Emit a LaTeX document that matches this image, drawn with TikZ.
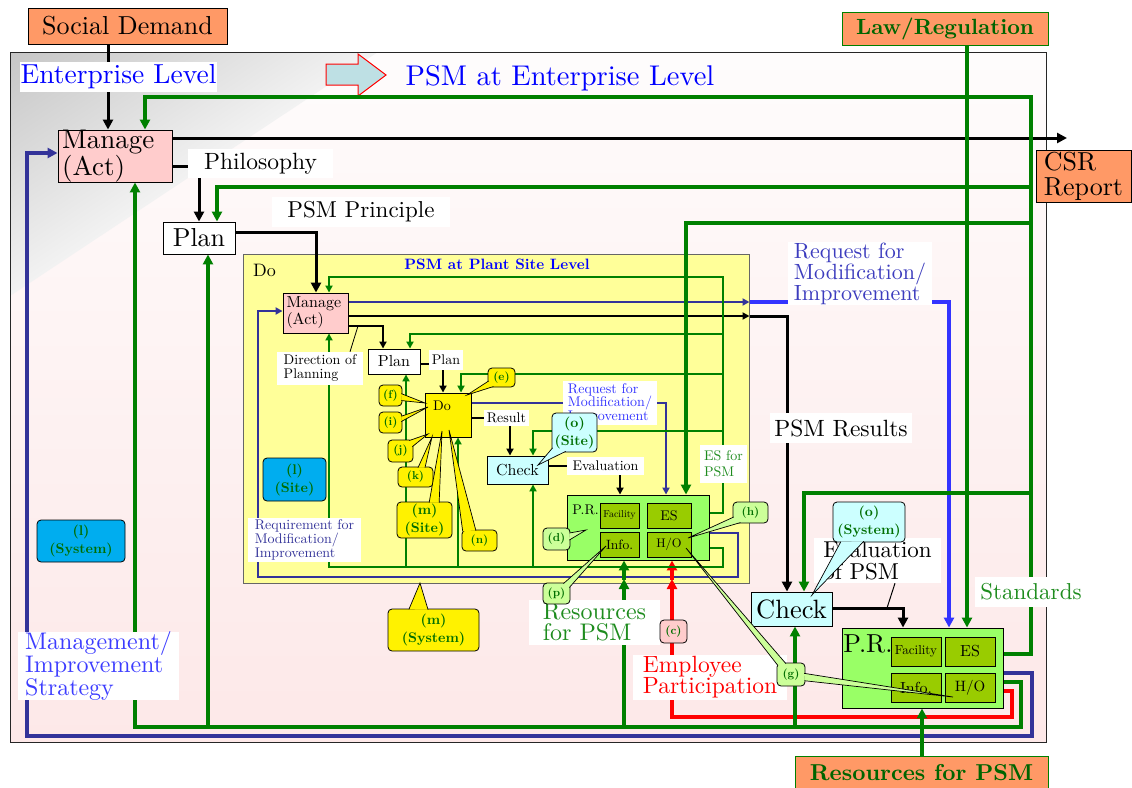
\documentclass[tikz,border=0pt]{standalone}
\usepackage{fontspec}
\setmainfont{lmroman10}[Extension=.otf, UprightFont=*-regular, BoldFont=*-bold, ItalicFont=*-italic, BoldItalicFont=*-bolditalic]
\usetikzlibrary{arrows.meta,calc}
\pgfdeclarelayer{bg}
\pgfdeclarelayer{fg}
\pgfsetlayers{bg,main,fg}
\definecolor{salmon}{RGB}{255,153,102}
\definecolor{pinkbox}{RGB}{255,204,204}
\definecolor{lyellow}{RGB}{255,255,153}
\definecolor{dgreen}{RGB}{0,128,0}
\definecolor{tgreen}{RGB}{0,100,0}
\definecolor{cgreen}{RGB}{0,110,0}
\definecolor{lgtext}{RGB}{30,140,30}
\definecolor{dblue}{RGB}{51,51,153}
\definecolor{bblue}{RGB}{51,51,255}
\definecolor{reqblue}{RGB}{60,60,190}
\definecolor{mblue}{RGB}{60,60,255}
\definecolor{lcyan}{RGB}{204,255,255}
\definecolor{lgreen}{RGB}{153,255,102}
\definecolor{oliveb}{RGB}{153,204,0}
\definecolor{callg}{RGB}{204,255,153}
\definecolor{arrowfill}{RGB}{190,224,228}
\definecolor{pinktop}{RGB}{254,252,252}
\definecolor{pinkbot}{RGB}{253,232,232}
\pgfdeclareverticalshading{grayfade}{100bp}{color(0bp)=(black!5); color(50bp)=(black!5); color(100bp)=(black!30)}
\newcommand{\myfs}[2]{\fontsize{#1}{#2}\selectfont}
\newcommand{\ptr}[5]{\filldraw[fill=#1,draw=black,line width=0.7pt] ($(#2.#3)!1.2pt!(#2.center)$) -- #5 -- ($(#2.#4)!1.2pt!(#2.center)$);}
\tikzset{
 box/.style={draw=black, line width=0.9pt, inner sep=0pt, anchor=center},
 lab/.style={fill=white, inner sep=0pt, anchor=center},
 call/.style={draw=black, line width=0.8pt, rounded corners=4pt, inner sep=0pt, align=center, text=cgreen, font=\bfseries\myfs{11.5}{14}},
 calltwo/.style={call, font=\bfseries\myfs{14}{18}},
 lnK/.style={line width=3pt, black},
 lnKi/.style={line width=2.4pt, black},
 lnG/.style={line width=3.2pt, dgreen},
 lnGi/.style={line width=2.6pt, dgreen},
 lnDB/.style={line width=3.2pt, dblue},
 lnDBi/.style={line width=2.6pt, dblue},
 lnBB/.style={line width=3.2pt, bblue},
 lnR/.style={line width=3.2pt, red},
 ar/.style={-{Triangle[length=10pt,width=10pt]}},
 ars/.style={-{Triangle[length=7pt,width=7pt]}},
}
\begin{document}
\begin{tikzpicture}[x=1pt,y=-1pt]
\useasboundingbox (0,0) rectangle (1132,787);

\begin{pgfonlayer}{bg}
\shade[top color=pinktop, bottom color=pinkbot] (10,52) rectangle (1046,742);
\begin{scope}
\clip (10,52) -- (378,52) -- (10,296) -- cycle;
\shade[shading=grayfade, shading angle=33.5] (10,52) rectangle (378,296);
\end{scope}
\draw[line width=1pt, black!85] (10,52) rectangle (1046,742);
\filldraw[fill=arrowfill, draw=red, line width=1pt] (326,64) -- (358,64) -- (358,54) -- (386,75) -- (358,96) -- (358,85) -- (326,85) -- cycle;
\node[draw=black!60, line width=1pt, fill=lyellow, minimum width=506pt, minimum height=329pt, inner sep=0pt] (yb) at (496,418.5) {};
\end{pgfonlayer}

\begin{pgfonlayer}{fg}
% boxes
\node[box, fill=salmon, minimum width=199pt, minimum height=36pt, font=\myfs{26}{28}] (soc) at (127.5,26) {Social Demand};
\node[box, fill=salmon, draw=dgreen, minimum width=206pt, minimum height=33pt, text=tgreen, font=\bfseries\myfs{22}{24}] (law) at (945,28.5) {Law/Regulation};
\node[box, fill=salmon, minimum width=95pt, minimum height=52pt, align=left, font=\myfs{26}{25}] (csr) at (1083.5,176) {CSR\\Report};
\node[box, fill=salmon, draw=dgreen, minimum width=253pt, minimum height=34pt, text=tgreen, font=\bfseries\myfs{23}{26}] (res) at (921.5,773) {Resources for PSM};
\node[box, fill=pinkbox, minimum height=52pt, text width=106pt, inner xsep=4pt, align=left, font=\myfs{27}{23}] (mgB) at (115,156) {Manage\\(Act)};
\node[box, fill=white, minimum width=72pt, minimum height=32pt, font=\myfs{26}{28}] (plB) at (199,238) {Plan};
\node[inner sep=0pt, anchor=west, font=\myfs{18}{20}] (doL) at (253,270) {Do};
\node[inner sep=0pt, text=blue, font=\bfseries\myfs{15}{17}] (psmP) at (497,264) {PSM at Plant Site Level};
\node[box, fill=pinkbox, minimum height=40pt, text width=58pt, inner xsep=3.5pt, align=left, font=\myfs{16}{17}] (mgS) at (315.5,313) {Manage\\(Act)};
\node[box, fill=white, minimum width=52pt, minimum height=25pt, font=\myfs{16}{18}] (plS) at (394,361.5) {Plan};
\node[box, fill=yellow, minimum width=46pt, minimum height=44pt] (doS) at (448,415) {};
\node[inner sep=0pt, font=\myfs{14}{16}] (doT) at (442,406) {Do};
\node[box, fill=lcyan, minimum width=61pt, minimum height=28pt, font=\myfs{16}{18}] (ckS) at (517.5,470) {Check};
\node[box, fill=lgreen, minimum width=142pt, minimum height=65pt] (prS) at (638,527.5) {};
\node[inner sep=0pt, font=\myfs{14}{16}] (prSt) at (585.5,510) {P.R.};
\node[box, fill=oliveb, minimum width=39pt, minimum height=25pt, font=\myfs{10}{12}] (faS) at (619.5,515.5) {Facility};
\node[box, fill=oliveb, minimum width=44pt, minimum height=25pt, font=\myfs{14}{16}] (esS) at (669,515.5) {ES};
\node[box, fill=oliveb, minimum width=39pt, minimum height=25pt, font=\myfs{13.5}{16}] (inS) at (619.5,544.5) {Info.};
\node[box, fill=oliveb, minimum width=44pt, minimum height=25pt, font=\myfs{12.5}{16}] (hoS) at (669,544.5) {H/O};
\node[box, fill=lcyan, minimum width=81pt, minimum height=34pt, font=\myfs{26.5}{28}] (ckB) at (791.5,609) {Check};
\node[box, fill=lgreen, minimum width=161pt, minimum height=80pt] (prB) at (922.5,668) {};
\node[inner sep=0pt, font=\myfs{26}{28}] (prBt) at (868,644) {P.R.};
\node[box, fill=oliveb, minimum width=50pt, minimum height=29pt, font=\myfs{13}{15}] (faB) at (916,651.5) {Facility};
\node[box, fill=oliveb, minimum width=50pt, minimum height=29pt, font=\myfs{16}{18}] (esB) at (970,651.5) {ES};
\node[box, fill=oliveb, minimum width=50pt, minimum height=29pt, font=\myfs{16}{18}] (inB) at (916,687.5) {Info.};
\node[box, fill=oliveb, minimum width=50pt, minimum height=29pt, font=\myfs{15}{18}] (hoB) at (970,687.5) {H/O};
% labels
\node[lab, text=blue, minimum width=197pt, minimum height=30pt, font=\myfs{27.5}{29}] (entL) at (118.5,77) {Enterprise Level};
\node[inner sep=0pt, text=blue, font=\myfs{28.5}{30}] (psmE) at (560,78) {PSM at Enterprise Level};
\node[lab, minimum width=145pt, minimum height=29pt, font=\myfs{23.5}{25}] (phil) at (260.5,163.5) {Philosophy};
\node[lab, minimum width=178pt, minimum height=30pt, font=\myfs{23}{25}] (prin) at (361,212) {PSM Principle};
\node[lab, align=left, minimum width=86pt, minimum height=33pt, font=\myfs{14}{14}] (dirL) at (320,368.5) {Direction of\\Planning};
\node[lab, minimum width=34pt, minimum height=20pt, font=\myfs{14}{16}] (planL) at (446,360) {Plan};
\node[lab, minimum width=45pt, minimum height=16pt, font=\myfs{14}{16}] (resL) at (506.5,418) {Result};
\node[lab, minimum width=77pt, minimum height=18pt, font=\myfs{14}{16}] (evL) at (605.5,466) {Evaluation};
\node[lab, text=bblue, align=left, minimum width=94pt, minimum height=44pt, font=\myfs{14}{13.5}] (reqS) at (610,403) {Request for\\Modification/\\Improvement};
\node[lab, text=lgtext, align=left, minimum width=47pt, minimum height=38pt, font=\myfs{14}{16}] (esL) at (723.5,464) {ES for\\PSM};
\node[lab, text=dblue, align=left, minimum width=113pt, minimum height=44pt, font=\myfs{14}{13}] (reqM) at (304.5,540) {Requirement for\\Modification/\\Improvement};
\node[lab, text=reqblue, align=left, minimum width=144pt, minimum height=63pt, font=\myfs{22}{21}] (reqB) at (860,273.5) {Request for\\Modification/\\Improvement};
\node[lab, minimum width=142pt, minimum height=30pt, font=\myfs{23.5}{25}] (psmR) at (841,428) {PSM Results};
\node[lab, align=left, minimum width=127pt, minimum height=45pt, font=\myfs{23}{22}] (evP) at (877.5,560.5) {Evaluation\\of PSM};
\node[lab, text=lgtext, minimum width=112pt, minimum height=30pt, font=\myfs{23}{25}] (std) at (1031,592) {Standards};
\node[lab, text=lgtext, align=left, minimum width=131pt, minimum height=45pt, font=\myfs{24}{21}] (resM) at (594.5,622.5) {Resources\\for PSM};
\node[lab, text=red, align=left, minimum width=154pt, minimum height=45pt, font=\myfs{23.5}{21}] (emp) at (710,677.5) {Employee\\Participation};
\node[lab, text=mblue, align=left, minimum width=161pt, minimum height=66pt, font=\myfs{24}{21.5}] (mgmt) at (98.5,666) {Management/\\Improvement\\Strategy};
\end{pgfonlayer}

% black connectors
\draw[lnK, ar] (108,0 |- soc.south) -- (108,0 |- mgB.north);
\coordinate (csrIn) at (1067,138);
\draw[lnK, ar] (mgB.east |- csrIn) -- (csrIn);
\draw[lnK] (mgB.east |- 0,166) -- (phil.west |- 0,166);
\draw[lnK, ar] (199,0 |- phil.south) -- (199,0 |- plB.north);
\draw[lnK, ar] (plB.east |- 0,232) -| (316,0 |- mgS.north);
\draw[lnKi, ars] (mgS.east |- 0,326) -| (383,0 |- plS.north);
\draw[lnKi] (plS.east |- 0,364) -- (planL.west |- 0,364);
\draw[lnKi, ars] (443,0 |- planL.south) -- (443,0 |- doS.north);
\draw[lnKi] (doS.east |- 0,418) -- (resL.west |- 0,418);
\draw[lnKi, ars] (510,0 |- resL.south) -- (510,0 |- ckS.north);
\draw[lnKi] (ckS.east |- 0,466) -- (evL.west |- 0,466);
\draw[lnKi, ars] (620,0 |- evL.south) -- (620,0 |- prS.north);
\draw[lnKi, ars] (mgS.east |- 0,316) -- (yb.east |- 0,316);
\draw[lnK, ar] (yb.east |- 0,316) -| (787,0 |- ckB.north);
\draw[lnK, ar] (ckB.east |- 0,608) -| (903,0 |- prB.north);
\draw[line width=1pt] (895,0 |- evP.south) -- (887,608);
\draw[line width=0.8pt] (350,0 |- dirL.north) -- (358,326);

% blue connectors
\draw[lnDBi, ars] (mgS.east |- 0,302) -- (yb.east |- 0,302);
\draw[lnBB, ar] (yb.east |- 0,302) -| (949,0 |- prB.north);
\draw[lnDBi, ars] (doS.east |- 0,403) -| (666,0 |- prS.north);
\draw[lnDBi, ars] (prS.east |- 0,533) -| (738,577) -| (258,311) -- (mgS.west |- 0,311);
\draw[lnDB, ar] (prB.east |- 0,673) -| (1032,736) -| (27,153) -- (mgB.west |- 0,153);

% red connectors
\draw[lnR, ar] (prB.east |- 0,691) -| (1012,717) -| (672,579);
\draw[lnR, ar] (672,580) -- (672,0 |- prS.south);

% green connectors
\draw[lnG, ar] (967,0 |- law.south) -- (967,0 |- prB.north);
\draw[lnG, ar] (prB.east |- 0,654) -| (1031,97) -| (145,0 |- mgB.north);
\draw[lnG, ar] (1031,187) -| (217,0 |- plB.north);
\draw[lnG, ar] (1031,223) -| (686,0 |- prS.north);
\draw[lnG, ar] (1031,493) -| (804,0 |- ckB.north);
\draw[lnG, ar] (prB.east |- 0,682) -| (1021,727) -| (135,0 |- mgB.south);
\draw[lnG, ar] (208,727) -- (208,0 |- plB.south);
\draw[lnG, ar] (624,727) -- (624,579);
\draw[lnG, ar] (624,580) -- (624,0 |- prS.south);
\draw[lnG, ar] (795,727) -- (795,0 |- ckB.south);
\draw[lnG, ar] (922,0 |- res.north) -- (922,0 |- prB.south);
\draw[lnGi, ars] (prS.east |- 0,513) -| (723,277) -| (329,0 |- mgS.north);
\draw[lnGi, ars] (723,334) -| (410,0 |- plS.north);
\draw[lnGi, ars] (723,374) -| (461,0 |- doS.north);
\draw[lnGi, ars] (723,431) -| (533,0 |- ckS.north);
\draw[lnGi, ars] (prS.east |- 0,548) -| (723,567) -| (329,0 |- mgS.south);
\draw[lnGi, ars] (406,567) -- (406,0 |- plS.south);
\draw[lnGi, ars] (458,567) -- (458,0 |- doS.south);
\draw[lnGi, ars] (533,567) -- (533,0 |- ckS.south);

% callouts
\begin{pgfonlayer}{fg}
\node[call, fill=yellow, minimum width=27pt, minimum height=19pt] (ce) at (501.5,377.5) {(e)};
\ptr{yellow}{ce}{195}{228}{(467,395)}
\node[call, fill=yellow, minimum width=23pt, minimum height=21pt] (cf) at (390.5,395.5) {(f)};
\ptr{yellow}{cf}{10}{-25}{(425,403)}
\node[call, fill=yellow, minimum width=23pt, minimum height=21pt] (ci) at (390.5,422.5) {(i)};
\ptr{yellow}{ci}{30}{5}{(428,407)}
\node[call, fill=yellow, minimum width=25pt, minimum height=22pt] (cj) at (400.5,451) {(j)};
\ptr{yellow}{cj}{50}{20}{(428,434)}
\node[call, fill=yellow, minimum width=35pt, minimum height=20pt] (ck) at (415.5,477) {(k)};
\ptr{yellow}{ck}{75}{45}{(432,437)}
\node[calltwo, fill=yellow, minimum width=55pt, minimum height=36pt] (cmS) at (424.5,520) {(m)\\(Site)};
\ptr{yellow}{cmS}{75}{50}{(442,431)}
\node[call, fill=yellow, minimum width=35pt, minimum height=21pt] (cn) at (479.5,540.5) {(n)};
\ptr{yellow}{cn}{150}{110}{(449,430)}
\node[calltwo, fill=lcyan, minimum width=45pt, minimum height=39pt] (coS) at (574.5,432.5) {(o)\\(Site)};
\ptr{lcyan}{coS}{215}{245}{(538,465)}
\node[calltwo, fill=cyan, minimum width=63pt, minimum height=43pt] (clS) at (294.5,479.5) {(l)\\(Site)};
\node[calltwo, fill=yellow, minimum width=91pt, minimum height=42pt] (cmY) at (433.5,630) {(m)\\(System)};
\ptr{yellow}{cmY}{140}{105}{(420,583)}
\node[calltwo, fill=cyan, minimum width=88pt, minimum height=42pt] (clY) at (81,541) {(l)\\(System)};
\node[call, fill=callg, minimum width=27pt, minimum height=22pt] (cd) at (556.5,539) {(d)};
\ptr{callg}{cd}{25}{-5}{(586,530)}
\node[call, fill=callg, minimum width=35pt, minimum height=21pt] (ch) at (750.5,512.5) {(h)};
\ptr{callg}{ch}{195}{225}{(688,538)}
\node[call, fill=callg, minimum width=27pt, minimum height=21pt] (cp) at (556.5,593.5) {(p)};
\ptr{callg}{cp}{25}{55}{(606,546)}
\node[call, fill=pinkbox, minimum width=27pt, minimum height=23pt] (cc) at (673.5,631.5) {(c)};
\node[call, fill=callg, minimum width=28pt, minimum height=23pt] (cg) at (791,674.5) {(g)};
\ptr{callg}{cg}{115}{145}{(686,548)}
\ptr{callg}{cg}{5}{-25}{(953,697)}
\node[calltwo, fill=lcyan, minimum width=72pt, minimum height=40pt] (coY) at (869,522) {(o)\\(System)};
\ptr{lcyan}{coY}{215}{255}{(812,595)}
\end{pgfonlayer}
\end{tikzpicture}
\end{document}
